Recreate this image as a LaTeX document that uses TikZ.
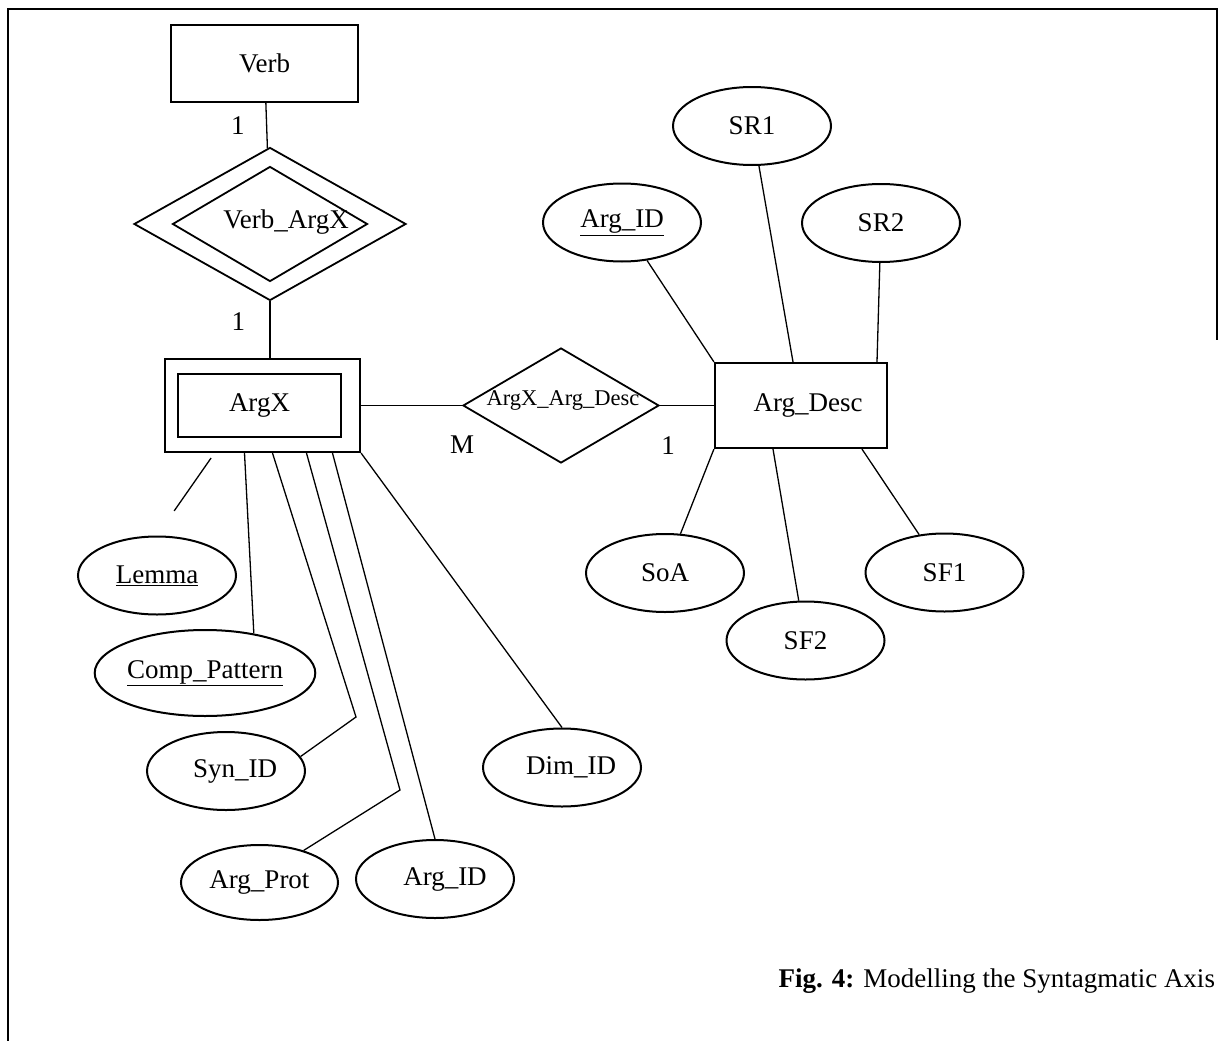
\documentclass[tikz,border=0pt]{standalone}
\usepackage{fontspec}
\setmainfont{Liberation Serif}
\usetikzlibrary{shapes.geometric,positioning}

\tikzset{
  entity/.style={draw, rectangle, line width=2.2pt, inner sep=0pt},
  attrib/.style={draw, ellipse, line width=2pt, inner sep=0pt, minimum width=158pt, minimum height=78pt},
  relship/.style={draw, diamond, line width=1.8pt, inner sep=0pt},
  link/.style={line width=1.3pt}
}

\begin{document}
\begin{tikzpicture}[x=1pt, y=-1pt, on grid, font=\fontsize{27}{32}\selectfont]
\useasboundingbox (0,0) rectangle (1223,1041);

% frame
\draw[line width=2pt] (8,1041) -- (8,9) -- (1217,9) -- (1217,340);

% entities and relationships
\node[entity, minimum width=187pt, minimum height=77pt] (verb) at (264.5,63.5) {Verb};
\node[relship, minimum width=272pt, minimum height=153pt] (vax) [below right=160.5pt and 5.5pt of verb] {};
\node[relship, minimum width=195pt, minimum height=115pt, label={[xshift=16pt, yshift=2pt]center:Verb\_ArgX}] (vaxin) at (vax) {};
\node[entity, minimum width=195pt, minimum height=93pt] (argx) [below left=181.5pt and 7.5pt of vax] {};
\node[entity, minimum width=163pt, minimum height=63pt] (argxin) at ([xshift=-3pt]argx.center) {ArgX};
\node[relship, minimum width=196pt, minimum height=115pt, label={[font=\fontsize{22.5}{26}\selectfont, xshift=2pt, yshift=5.5pt]center:ArgX\_Arg\_Desc}] (axad) [right=298.5pt of argx] {};
\node[entity, minimum width=172pt, minimum height=85pt] (desc) [right=240pt of axad] {\hspace*{14pt}Arg\_Desc};

% attributes of Arg_Desc
\node[attrib] (descid) [above left=183pt and 179pt of desc] {\underline{Arg\_ID}};
\node[attrib] (sr1) [above left=279.5pt and 49pt of desc] {SR1};
\node[attrib] (sr2) [above right=182.5pt and 80pt of desc] {SR2};
\node[attrib] (soa) [below left=167.5pt and 136pt of desc] {SoA};
\node[attrib] (sf2) [below right=235pt and 4.5pt of desc] {SF2};
\node[attrib] (sf1) [below right=167pt and 143.5pt of desc] {SF1};

% attributes of ArgX
\node[attrib] (lemma) [below left=170pt and 105.5pt of argx] {\underline{Lemma}};
\node[attrib, minimum width=212pt, minimum height=86pt] (comppat) [below left=267.5pt and 57.5pt of argx] {\underline{Comp\_Pattern}};
\node[attrib] (synid) [below left=365.5pt and 36.5pt of argx] {\hspace*{18pt}Syn\_ID};
\node[attrib, minimum width=157pt, minimum height=75pt] (argprot) [below left=477pt and 3pt of argx] {Arg\_Prot};
\node[attrib] (argid) [below right=473.5pt and 172.5pt of argx] {\hspace*{20pt}Arg\_ID};
\node[attrib] (dimid) [below right=362pt and 299.5pt of argx] {\hspace*{18pt}Dim\_ID};

\path[link]
(verb) edge node[left=18pt] {1} (vax)
(vax.south) edge node[left=21pt, pos=0.35] {1} (vax.south |- argx.north)
(argx) edge node[below=26pt, pos=1] {M} (axad)
(axad) edge node[below=27pt, pos=0.15] {1} (desc);

\path[link]
(descid) edge (desc.north west)
(sr1) edge ([xshift=-8pt]desc.north)
(sr2) edge ([xshift=76pt]desc.north)
(desc.south west) edge (soa)
([xshift=-28pt]desc.south) edge (sf2)
([xshift=61pt]desc.south) edge (sf1);

\coordinate (bend1) at (356,717);
\coordinate (bend2) at (400,790);
\draw[link, shorten <=6pt, shorten >=30pt] ([xshift=-48pt]argx.south) -- (lemma.north);
\draw[link] ([xshift=-18pt]argx.south) -- (comppat.39);
\draw[link] ([xshift=10pt]argx.south) -- (bend1) -- (synid.11);
\draw[link] ([xshift=44pt]argx.south) -- (bend2) -- (argprot.36);
\draw[link] ([xshift=70pt]argx.south) -- (argid.north);
\draw[link] (argx.south east) -- (dimid.north);

\node[anchor=base west, font=\fontsize{27}{32}\selectfont] (caption) at (775,987) {\textbf{Fig. 4:} Modelling the Syntagmatic Axis};
\end{tikzpicture}
\end{document}
